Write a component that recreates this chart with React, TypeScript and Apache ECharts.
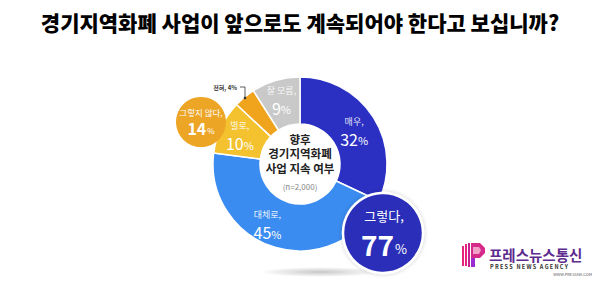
import React, { useEffect, useRef } from "react";
import * as echarts from "echarts";

const titleText = "경기지역화폐 사업이 앞으로도 계속되어야 한다고 보십니까?";
const categories = ["매우", "대체로", "별로", "전혀", "잘 모름"];
const values = [32, 45, 10, 4, 9];
const colors = ["#2b30c2", "#3a8cf0", "#f3c22e", "#f0a41e", "#c9c9c9"];
const centerLines = ["향후", "경기지역화폐", "사업 지속 여부"];
const sampleText = "(n=2,000)";
const summaryLabels = ["그렇다", "그렇지 않다"];
const summaryValues = [77, 14];
const summaryColors = ["#2a2db8", "#eda526"];

const FONT = "'Noto Sans CJK KR', 'Noto Sans', sans-serif";

export default function App() {
  const ref = useRef<HTMLDivElement>(null);
  useEffect(() => {
    document.body.style.margin = "0";
    const chart = echarts.init(ref.current!, null, { renderer: "svg" });
    const cx = 300, cy = 164;
    const option: any = {
      animation: false,
      backgroundColor: "#ffffff",
      textStyle: { fontFamily: FONT },
      title: {
        text: titleText,
        left: "center",
        top: 6,
        textStyle: { fontFamily: FONT, fontSize: 21, fontWeight: 900, color: "#000" },
      },
      series: [
        {
          type: "pie",
          center: [cx, cy],
          radius: [40, 87],
          startAngle: 90,
          clockwise: true,
          silent: true,
          z: 2,
          itemStyle: { borderColor: "#fff", borderWidth: 1.5 },
          label: {
            show: true,
            position: "inside",
            formatter: (p: any) => `{a|${p.name},}\n{b|${p.value}}{c|%}`,
            rich: {
              a: { fontFamily: FONT, fontSize: 9, color: "rgba(255,255,255,0.9)", lineHeight: 15 },
              b: { fontFamily: FONT, fontSize: 16, color: "#fff", lineHeight: 20 },
              c: { fontFamily: FONT, fontSize: 11, color: "#fff", lineHeight: 20, padding: [3, 0, 0, 0] },
            },
          },
          labelLine: { show: false },
          data: categories.map((name, i) => ({
            name,
            value: values[i],
            itemStyle: { color: colors[i] },
            label: name === "전혀" ? { show: false } : name === "대체로" ? { offset: [-14, -3] } : name === "매우" ? { offset: [-2, 3] } : {},
          })),
        },
      ],
      graphic: [
        {
          type: "ellipse",
          shape: { cx: 320, cy: 272, rx: 60, ry: 5 },
          style: {
            fill: new echarts.graphic.RadialGradient(0.5, 0.5, 0.5, [
              { offset: 0, color: "rgba(0,0,0,0.22)" },
              { offset: 1, color: "rgba(0,0,0,0)" },
            ]),
          },
          z: 0,
        },
        {
          type: "text",
          x: cx,
          y: 163,
          style: {
            text: centerLines.map((t) => `{m|${t}}`).join("\n") + `\n{s|${sampleText}}`,
            align: "center",
            verticalAlign: "middle",
            rich: {
              m: { fontFamily: FONT, fontSize: 11.5, fontWeight: "bold", fill: "#222", lineHeight: 14.5 },
              s: { fontFamily: FONT, fontSize: 8, fill: "#888", lineHeight: 20, padding: [4, 0, 0, 0] },
            },
          },
          z: 10,
        },
        {
          type: "polyline",
          shape: { points: [[240, 87], [245, 87], [245, 98]] },
          style: { stroke: "#333", lineWidth: 0.8, fill: "none" },
          z: 10,
        },
        { type: "circle", shape: { cx: 245, cy: 98, r: 1.3 }, style: { fill: "#333" }, z: 10 },
        {
          type: "text",
          x: 237,
          y: 87,
          style: {
            text: `${categories[3]}, ${values[3]}%`,
            fontFamily: FONT,
            fontSize: 6,
            fontWeight: "bold",
            fill: "#333",
            align: "right",
            verticalAlign: "middle",
          },
          z: 10,
        },
        {
          type: "circle",
          shape: { cx: 383, cy: 233, r: 40 },
          style: { fill: summaryColors[0], stroke: "#fff", lineWidth: 2.5, shadowBlur: 4, shadowColor: "rgba(0,0,0,0.2)" },
          z: 10,
        },
        {
          type: "text",
          x: 384,
          y: 233,
          style: {
            text: `{a|${summaryLabels[0]},}\n{b|${summaryValues[0]}}{c|%}`,
            align: "center",
            verticalAlign: "middle",
            rich: {
              a: { fontFamily: FONT, fontSize: 13, fill: "#fff", lineHeight: 22 },
              b: { fontFamily: FONT, fontSize: 28, fontWeight: "bold", fill: "#fff", lineHeight: 36 },
              c: { fontFamily: FONT, fontSize: 13, fill: "#fff", lineHeight: 36, padding: [8, 0, 0, 1] },
            },
          },
          z: 11,
        },
        {
          type: "circle",
          shape: { cx: 201, cy: 122, r: 25 },
          style: { fill: summaryColors[1] },
          z: 10,
        },
        {
          type: "text",
          x: 201,
          y: 121,
          style: {
            text: `{a|${summaryLabels[1]},}\n{b|${summaryValues[1]}}{c|%}`,
            align: "center",
            verticalAlign: "middle",
            rich: {
              a: { fontFamily: FONT, fontSize: 8.5, fill: "#fff", lineHeight: 13 },
              b: { fontFamily: FONT, fontSize: 16, fontWeight: "bold", fill: "#fff", lineHeight: 19 },
              c: { fontFamily: FONT, fontSize: 8, fill: "#fff", lineHeight: 19, padding: [5, 0, 0, 1] },
            },
          },
          z: 11,
        },
        {
          type: "group",
          z: 10,
          children: [
            { type: "rect", shape: { x: 462, y: 246, width: 2, height: 20 }, style: { fill: "#e8237d" } },
            { type: "rect", shape: { x: 465, y: 244, width: 2, height: 22 }, style: { fill: "#e8237d" } },
            { type: "rect", shape: { x: 468, y: 243, width: 2, height: 24 }, style: { fill: "#c81f8f" } },
            { type: "polygon", shape: { points: [[471, 243], [480, 243], [485, 248], [485, 253], [480, 258], [471, 258]] }, style: { fill: "#d52a8a" } },
            { type: "polygon", shape: { points: [[473, 247], [479, 247], [481, 250], [479, 254], [473, 254]] }, style: { fill: "#f2a0c8" } },
            { type: "rect", shape: { x: 471, y: 258, width: 4, height: 9 }, style: { fill: "#9b2ad0" } },
          ],
        },
        {
          type: "text",
          x: 489,
          y: 254,
          style: { text: "프레스뉴스통신", fontFamily: FONT, fontSize: 14.5, fontWeight: "bold", fill: "#5d2a8e", verticalAlign: "middle" },
          z: 10,
        },
        {
          type: "text",
          x: 490,
          y: 267,
          style: { text: "P R E S S   N E W S   A G E N C Y", fontFamily: FONT, fontSize: 5.5, fontWeight: "bold", fill: "#333", verticalAlign: "middle" },
          z: 10,
        },
        {
          type: "text",
          x: 592,
          y: 274,
          style: { text: "WWW.PRESSNA.COM", fontFamily: FONT, fontSize: 4, fill: "#555", align: "right", verticalAlign: "middle" },
          z: 10,
        },
      ],
    };
    chart.setOption(option);
    return () => chart.dispose();
  }, []);
  return <div ref={ref} style={{ position: "fixed", left: 0, top: 0, width: 600, height: 286 }} />;
}
